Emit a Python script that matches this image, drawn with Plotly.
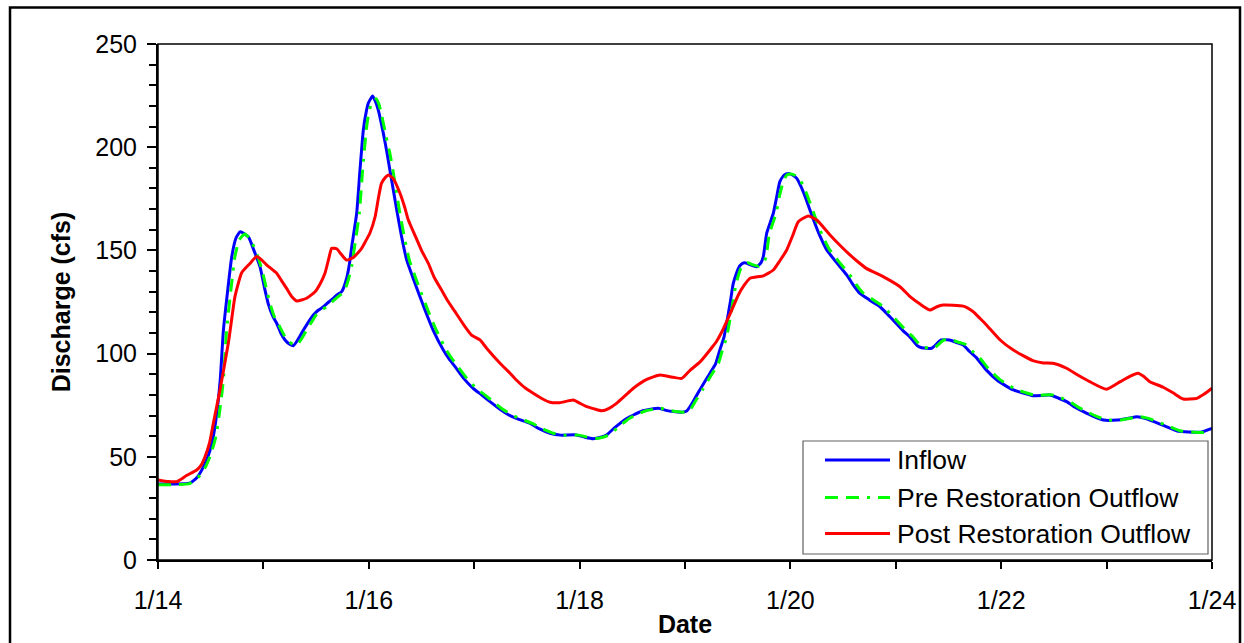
import plotly.graph_objects as go

# ---- data (day offset from 1/14 00:00, discharge in cfs) ----
inflow_days = [0.00, 0.15, 0.30, 0.37, 0.43, 0.48, 0.525, 0.56, 0.59, 0.62, 0.66, 0.70, 0.74, 0.78, 0.857, 0.91, 0.968,
               1.01, 1.047, 1.09, 1.126, 1.165, 1.205, 1.25, 1.284, 1.33, 1.38, 1.43, 1.474, 1.52, 1.57, 1.62, 1.663,
               1.70, 1.743, 1.79, 1.815, 1.838, 1.885, 1.915, 1.948, 1.975, 1.995, 2.036, 2.06, 2.09, 2.138, 2.17, 2.20,
               2.265, 2.31, 2.36, 2.41, 2.45, 2.533, 2.61, 2.707, 2.76, 2.818, 2.90, 2.99, 3.07, 3.15, 3.245, 3.32,
               3.40, 3.53, 3.62, 3.72, 3.82, 3.97, 4.05, 4.13, 4.20, 4.256, 4.33, 4.446, 4.52, 4.60, 4.747, 4.82, 4.89,
               4.96, 5.016, 5.08, 5.14, 5.237, 5.29, 5.33, 5.37, 5.395, 5.43, 5.458, 5.506, 5.54, 5.57, 5.62, 5.68,
               5.72, 5.743, 5.775, 5.838, 5.87, 5.90, 5.94, 5.98, 6.02, 6.06, 6.10, 6.14, 6.22, 6.28, 6.345, 6.44,
               6.534, 6.60, 6.66, 6.75, 6.85, 6.96, 7.07, 7.135, 7.20, 7.245, 7.34, 7.43, 7.51, 7.57, 7.64, 7.70,
               7.77, 7.86, 7.96, 8.04, 8.115, 8.20, 8.30, 8.46, 8.54, 8.62, 8.70, 8.78, 8.88, 8.97, 9.10, 9.20, 9.29,
               9.37, 9.45, 9.55, 9.67, 9.78, 9.89, 10.0]
inflow = [36.8, 36.8, 37.2, 40, 45, 51, 60, 72, 87, 111, 130, 147, 156, 159, 156.6, 150, 142,
          132, 124, 118, 114.7, 110, 106.6, 104.5, 103.8, 107, 111.4, 115.5, 118.7, 121, 122.7, 125, 126.8,
          128.5, 130, 136.5, 143, 151.8, 168, 188, 208.3, 217, 221.3, 224.8, 222.5, 218, 206.7, 198, 189,
          169.6, 157, 145.3, 138, 132.4, 121.1, 111.4, 101.7, 97.5, 93.7, 88, 83.2, 80, 76.7, 73, 70.5,
          68.6, 66.2, 63.5, 61.4, 60.5, 60.6, 59.5, 58.8, 59.5, 60.6, 64, 68.6, 70.5, 72.3, 73.5, 72.5, 71.9,
          71.6, 72.2, 77, 82.4, 90.5, 95, 101.7, 108, 114.7, 125, 134, 141.3, 143.5, 144, 143, 142.1,
          144, 147, 158.3, 168, 176, 183.3, 186.5, 187.3, 186.5, 184.9, 181, 176, 164.7, 157, 150.2, 144,
          138.1, 133, 129.2, 126, 122.7, 117, 111, 108, 104, 102.8, 102.6, 106.6, 106.6, 105.5, 104.2, 101,
          97.7, 92, 87.2, 84.5, 82.4, 81, 79.6, 79.9, 78.5, 76.7, 74, 71.9, 69.5, 67.8, 67.8, 68.6, 69.4,
          68.5, 67, 65, 62.5, 62, 61.9, 63.8]

pre_days = [0.00, 0.15, 0.30, 0.38, 0.45, 0.50, 0.55, 0.585, 0.62, 0.65, 0.69, 0.73, 0.77, 0.825, 0.88, 0.94, 0.99,
            1.03, 1.07, 1.11, 1.15, 1.19, 1.235, 1.28, 1.315, 1.36, 1.41, 1.46, 1.50, 1.55, 1.60, 1.65, 1.69,
            1.73, 1.77, 1.81, 1.84, 1.865, 1.91, 1.94, 1.975, 2.00, 2.03, 2.07, 2.095, 2.12, 2.165, 2.20, 2.23,
            2.29, 2.335, 2.385, 2.435, 2.475, 2.56, 2.64, 2.735, 2.79, 2.845, 2.93, 3.02, 3.10, 3.18, 3.27, 3.35,
            3.43, 3.56, 3.65, 3.75, 3.85, 3.99, 4.07, 4.15, 4.22, 4.28, 4.36, 4.47, 4.55, 4.63, 4.77, 4.84, 4.91,
            4.98, 5.04, 5.10, 5.165, 5.26, 5.315, 5.355, 5.395, 5.42, 5.455, 5.485, 5.53, 5.565, 5.595, 5.645, 5.70,
            5.745, 5.77, 5.80, 5.865, 5.895, 5.93, 5.965, 6.005, 6.045, 6.085, 6.125, 6.165, 6.245, 6.305, 6.37, 6.465,
            6.56, 6.625, 6.685, 6.775, 6.875, 6.985, 7.095, 7.16, 7.225, 7.27, 7.365, 7.455, 7.535, 7.595, 7.665, 7.725,
            7.795, 7.885, 7.985, 8.065, 8.14, 8.225, 8.325, 8.485, 8.565, 8.645, 8.725, 8.805, 8.905, 8.995, 9.125,
            9.225, 9.315, 9.395, 9.475, 9.575, 9.695, 9.805, 9.915, 10.0]
pre_outflow = [36.5, 36.5, 37, 40, 45, 51, 60, 72, 87, 111, 130, 147, 155, 158, 155, 148, 140,
               131, 123, 117, 113.5, 109.5, 106, 104.5, 104, 107, 111.4, 115.5, 118.7, 121, 122.7, 125, 126.8,
               128.5, 130.5, 136.5, 143, 151.8, 168, 188, 208, 217, 221.5, 223.5, 221, 216, 205, 197, 188.5,
               169.5, 157, 145.3, 138, 132.4, 121.1, 111.4, 101.7, 97.5, 93.7, 88, 83.2, 80, 76.7, 73, 70.5,
               68.6, 66, 63.5, 61.4, 60.5, 60.5, 59.6, 58.9, 59.5, 60.6, 64, 68.6, 70.6, 72.3, 73.5, 72.6, 72,
               71.6, 72.2, 77, 82.4, 90.5, 95, 101.7, 108, 114.7, 125, 134, 141.3, 143.5, 144, 143, 142.3,
               144, 147, 158, 168, 176, 183, 186.5, 187, 186.3, 184.5, 181, 176, 164.7, 157, 150.5, 144.2,
               138.4, 133.4, 129.6, 126.4, 123, 117.3, 111.3, 108.3, 104.3, 103, 102.8, 106.6, 106.6, 105.5, 104.3, 101.2,
               98, 92.3, 87.5, 84.8, 82.6, 81.2, 79.8, 80, 78.6, 76.9, 74.2, 72, 69.6, 67.9, 67.8,
               68.7, 69.4, 68.6, 67.1, 65.1, 62.6, 62, 61.8, 63.2]

post_days = [0.00, 0.10, 0.18, 0.27, 0.367, 0.41, 0.446, 0.49, 0.525, 0.588, 0.667, 0.70, 0.73, 0.794, 0.873, 0.936,
             0.98, 1.03, 1.126, 1.17, 1.22, 1.27, 1.316, 1.41, 1.49, 1.54, 1.584, 1.62, 1.648, 1.695, 1.74, 1.79,
             1.853, 1.90, 1.932, 1.97, 2.01, 2.06, 2.09, 2.12, 2.16, 2.185, 2.23, 2.296, 2.34, 2.375, 2.45, 2.50,
             2.565, 2.62, 2.69, 2.75, 2.818, 2.90, 2.975, 3.055, 3.118, 3.245, 3.34, 3.40, 3.48, 3.56, 3.65, 3.72,
             3.81, 3.94, 4.00, 4.067, 4.14, 4.21, 4.28, 4.35, 4.43, 4.51, 4.637, 4.763, 4.89, 4.97, 5.05, 5.145,
             5.25, 5.30, 5.35, 5.43, 5.506, 5.56, 5.617, 5.743, 5.838, 5.90, 5.965, 6.02, 6.075, 6.17, 6.25, 6.376,
             6.47, 6.565, 6.64, 6.72, 6.88, 7.04, 7.135, 7.23, 7.325, 7.39, 7.45, 7.64, 7.735, 7.80, 7.86, 7.99,
             8.115, 8.30, 8.40, 8.49, 8.62, 8.73, 8.84, 9.00, 9.13, 9.22, 9.30, 9.35, 9.41, 9.537, 9.63, 9.727,
             9.855, 9.93, 10.0]
post_outflow = [38.8, 38, 38, 40.9, 43.6, 46, 50, 57, 66.2, 82.4, 105, 117, 127.6, 139.2, 143.7, 147,
                145.5, 143, 138.9, 135.5, 131.6, 127.5, 125.5, 126.8, 130, 134, 138.9, 146, 151, 150.8, 148, 145.3,
                146.5, 149, 151, 154.5, 158.3, 166.3, 175, 182.5, 185.5, 186.5, 184.9, 177.7, 171, 164.7, 155.9, 150,
                143.7, 137, 130.8, 125.5, 120.3, 114, 109, 106.6, 102.6, 95.3, 90.5, 87.2, 83.5, 80.8, 78, 76.4,
                76.2, 77.5, 76, 74.3, 73.2, 72.3, 73.5, 75.9, 79.5, 83.2, 87.5, 89.6, 88.5, 88, 92, 96.1,
                102.6, 106, 110.6, 119.5, 128.4, 133, 136.5, 137.7, 140.5, 145, 150.2, 157, 163.9, 166.7, 164.7, 157.5,
                152.5, 147.8, 144.5, 141.3, 137.3, 132.4, 127.6, 124, 121.1, 122.7, 123.5, 123, 120.3, 117, 113.9, 106.6,
                101.7, 96.6, 95.5, 95.3, 92.9, 89.5, 86.4, 82.7, 86.4, 89, 90.5, 89, 86.4, 83.7, 81, 78,
                78.3, 80.5, 83.2]

tick_days = [0, 2, 4, 6, 8, 10]
tick_labels = ["1/14", "1/16", "1/18", "1/20", "1/22", "1/24"]

series_names = ["Inflow", "Pre Restoration Outflow", "Post Restoration Outflow"]
series_colors = ["#0000FF", "#00FF00", "#FF0000"]
series_dash = ["solid", "13px,8px,13px,8px,3px,8px", "solid"]

FONT = "Liberation Sans, Arial, sans-serif"

fig = go.Figure()
for days, vals, name, color, dash in zip([inflow_days, pre_days, post_days],
                                          [inflow, pre_outflow, post_outflow],
                                          series_names, series_colors, series_dash):
    fig.add_trace(go.Scatter(x=days, y=vals, mode="lines", name=name, showlegend=False,
                             hoverinfo="skip",
                             line=dict(color=color, width=3, dash=dash, shape="spline", smoothing=0.5)))

L, R, T, B = 158, 32, 44, 83
W, H = 1244, 643
pw, ph = W - L - R, H - T - B


def px(x):
    return (x - L) / pw


def py(y):
    return (H - B - y) / ph


shapes = [
    # plot frame (thin top/right edges)
    dict(type="rect", xref="paper", yref="paper", x0=0, x1=1, y0=0, y1=1,
         line=dict(color="black", width=1.5), layer="above"),
    # outer chart border
    dict(type="rect", xref="paper", yref="paper",
         x0=px(10), x1=px(1240), y0=py(660), y1=py(7.5),
         line=dict(color="black", width=2.5), layer="above"),
    # legend box
    dict(type="rect", xref="paper", yref="paper",
         x0=px(803), x1=px(1208), y0=py(554), y1=py(441),
         line=dict(color="#606060", width=1.2), fillcolor="white", layer="above"),
]
annotations = []
legend_rows = [460, 497.5, 533.5]
for row_y, name, color, dash in zip(legend_rows, series_names, series_colors, series_dash):
    shapes.append(dict(type="line", xref="paper", yref="paper",
                       x0=px(825), x1=px(890), y0=py(row_y), y1=py(row_y),
                       line=dict(color=color, width=3, dash=dash), layer="above"))
    annotations.append(dict(xref="paper", yref="paper", x=px(895), y=py(row_y),
                            xanchor="left", yanchor="middle", showarrow=False, text=name,
                            font=dict(family=FONT, size=26.5, color="black")))

fig.update_layout(
    width=W, height=H,
    margin=dict(l=L, r=R, t=T, b=B),
    paper_bgcolor="white", plot_bgcolor="white",
    font=dict(family=FONT, color="black", size=25),
    showlegend=False,
    hovermode=False,
    xaxis=dict(range=[0, 10], tickmode="array", tickvals=tick_days, ticktext=tick_labels,
               automargin=False, fixedrange=True,
               showgrid=False, zeroline=False, showline=True, linecolor="black", linewidth=2,
               ticks="outside", ticklen=7, tickwidth=1.5, tickcolor="black",
               minor=dict(dtick=1, ticks="outside", ticklen=7, tickwidth=1.5, tickcolor="black", showgrid=False),
               tickfont=dict(family=FONT, size=25), ticklabelstandoff=10,
               title=dict(text="<b>Date</b>", font=dict(family=FONT, size=25), standoff=2)),
    yaxis=dict(range=[0, 250], tickmode="linear", tick0=0, dtick=50,
               automargin=False, fixedrange=True,
               showgrid=False, zeroline=False, showline=True, linecolor="black", linewidth=2,
               ticks="outside", ticklen=9, tickwidth=1.5, tickcolor="black",
               minor=dict(dtick=10, ticks="outside", ticklen=7, tickwidth=1.5, tickcolor="black", showgrid=False),
               tickfont=dict(family=FONT, size=25), ticklabelstandoff=5,
               title=dict(text="<b>Discharge (cfs)</b>", font=dict(family=FONT, size=25), standoff=18)),
    shapes=shapes,
    annotations=annotations,
)

fig.write_html("out.html", config={"displayModeBar": False},
               post_script="document.body.style.margin='0px';document.body.style.overflow='hidden';")
